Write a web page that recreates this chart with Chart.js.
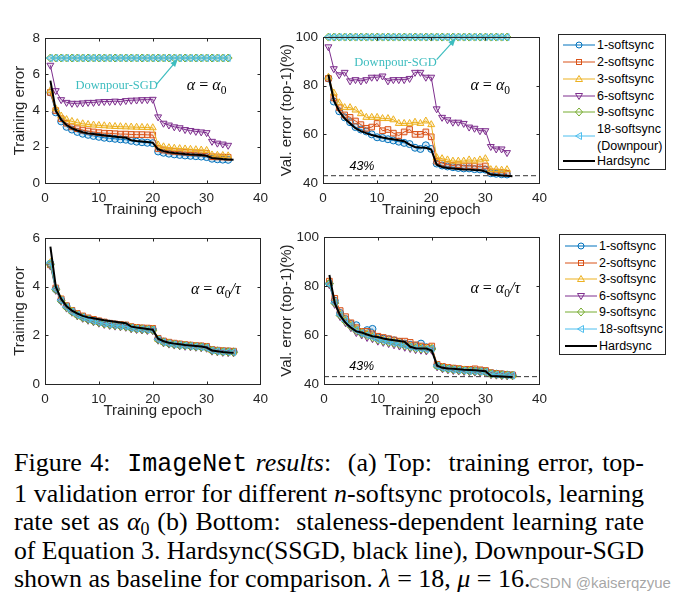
<!DOCTYPE html>
<html>
<head>
<meta charset="utf-8">
<script src="https://cdn.jsdelivr.net/npm/chart.js@4.4.0/dist/chart.umd.min.js"></script>
<style>
body{margin:0;background:#fff;}
#fig{position:relative;width:692px;height:602px;overflow:hidden;background:#fff;font-family:"Liberation Sans",Arial,sans-serif;color:#262626;}
#fig canvas{position:absolute;}
.legend{position:absolute;border:1px solid #262626;background:#fff;box-sizing:border-box;}
.row{position:absolute;height:16px;line-height:16px;font-size:12.5px;white-space:nowrap;color:#000;}
#caption{position:absolute;left:14px;top:449px;width:630px;font-family:"Liberation Serif","Times New Roman",serif;font-size:26px;line-height:28.5px;color:#000;}
#caption .ln{white-space:nowrap;transform-origin:0 0;}
#caption .j{text-align:justify;text-align-last:justify;}
.mono{font-family:"Liberation Mono","Courier New",monospace;font-size:25px;}
.sub{font-size:18px;vertical-align:-5px;line-height:0;}
#mark{position:absolute;left:529px;top:574px;font-size:15px;color:rgba(150,150,150,0.85);font-family:"Liberation Sans",Arial,sans-serif;text-shadow:0 0 2px #fff;}
</style>
</head>
<body>
<div id="fig">
  <canvas id="c1" width="275" height="200" style="left:0;top:25px"></canvas>
  <canvas id="c2" width="276" height="201" style="left:278px;top:24px"></canvas>
  <canvas id="c3" width="275" height="201" style="left:0;top:225px"></canvas>
  <canvas id="c4" width="276" height="202" style="left:278px;top:224px"></canvas>
  <div id="leg1" class="legend" style="left:558px;top:34px;width:108px;height:136px"></div>
  <div id="leg2" class="legend" style="left:559px;top:234px;width:107px;height:121px"></div>
  <div id="caption">
    <div class="ln j">Figure 4:&nbsp; <span class="mono">ImageNet</span> <i>results</i>:&nbsp; (a) Top:&nbsp; training error, top-</div>
    <div class="ln j">1 validation error for different <i>n</i>-softsync protocols, learning</div>
    <div class="ln j">rate set as <i>α</i><span class="sub">0</span> (b) Bottom:&nbsp; staleness-dependent learning rate</div>
    <div class="ln j">of Equation 3. Hardsync(SSGD, black line), Downpour-SGD</div>
    <div class="ln">shown as baseline for comparison. <i>λ</i> = 18, <i>μ</i> = 16.</div>
  </div>
  <div id="mark">CSDN @kaiserqzyue</div>
</div>
<script>
// 데이터
const epochs = [1,2,3,4,5,6,7,8,9,10,11,12,13,14,15,16,17,18,19,20,21,22,23,24,25,26,27,28,29,30,31,32,33,34,35];
const seriesNames = ['1-softsync','2-softsync','3-softsync','6-softsync','9-softsync','18-softsync'];
const xTicks = [0,10,20,30,40];
const trainTicksTop = [0,2,4,6,8];
const trainTicksBot = [0,2,4,6];
const valTicks = [40,60,80,100];
const targetErr = 43;

// (a) 위: alpha = alpha0
const hardTrain = [5.65,4.0,3.5,3.2,3.02,2.9,2.8,2.74,2.7,2.66,2.62,2.59,2.56,2.53,2.5,2.36,2.32,2.29,2.26,2.23,1.86,1.76,1.7,1.66,1.63,1.6,1.58,1.56,1.54,1.5,1.38,1.35,1.32,1.3,1.28];
const topTrain1 = [5.0,3.9,3.4,3.1,2.95,2.82,2.72,2.66,2.6,2.55,2.5,2.47,2.44,2.41,2.39,2.33,2.28,2.25,2.22,2.2,1.74,1.67,1.62,1.58,1.55,1.52,1.5,1.48,1.46,1.43,1.34,1.31,1.29,1.28];
const topTrain2 = [5.0,4.0,3.55,3.3,3.1,3.0,2.92,2.87,2.82,2.78,2.75,2.74,2.72,2.7,2.7,2.68,2.67,2.67,2.66,2.65,1.9,1.82,1.77,1.74,1.72,1.7,1.68,1.66,1.65,1.63,1.45,1.44,1.43,1.42];
const topTrain3 = [5.1,4.1,3.7,3.5,3.4,3.33,3.27,3.23,3.2,3.18,3.16,3.14,3.12,3.11,3.1,3.09,3.08,3.07,3.06,3.05,2.1,2.0,1.95,1.92,1.9,1.88,1.86,1.84,1.82,1.8,1.55,1.53,1.52,1.5];
const topTrain6 = [6.5,5.1,4.6,4.45,4.4,4.4,4.42,4.45,4.45,4.48,4.5,4.5,4.52,4.5,4.55,4.57,4.58,4.6,4.6,4.62,3.65,3.3,3.2,3.1,3.05,2.95,2.9,2.85,2.82,2.78,2.3,2.2,2.15,2.08];
const topTrain9 = [6.9,6.9,6.9,6.9,6.9,6.9,6.9,6.9,6.9,6.9,6.9,6.9,6.9,6.9,6.9,6.9,6.9,6.9,6.9,6.9,6.9,6.9,6.9,6.9,6.9,6.9,6.9,6.9,6.9,6.9,6.9,6.9,6.9,6.9];
const topTrain18 = [6.9,6.9,6.9,6.9,6.9,6.9,6.9,6.9,6.9,6.9,6.9,6.9,6.9,6.9,6.9,6.9,6.9,6.9,6.9,6.9,6.9,6.9,6.9,6.9,6.9,6.9,6.9,6.9,6.9,6.9,6.9,6.9,6.9,6.9];

const hardValTop = [84.5,74,69.5,66.5,64.5,62.5,61.3,60.5,59.7,59.2,58.7,58.3,58,57.6,57.2,55.8,54.8,54.6,54.5,53.8,47.5,46.6,46.2,46,45.8,45.6,45.5,45.3,45.2,44.8,43.5,43.3,43.1,43,42.8];
const topVal1 = [83,73.5,69.5,67,65,63,62,61.2,60,58.8,58.5,58,57.5,57,56.5,56,54.5,54,55.5,54,48,47.2,46.8,46.5,46.2,46,46,45.7,45.6,45.5,44,43.8,43.6,43.5];
const topVal2 = [83,75,71,68,67,65.5,64,62.5,63,64.5,61.5,62,60.5,59.5,61,62,60,60,61,59,49,48.2,47.6,47.2,47.5,47,47,47,46.6,47,44.6,44.5,44.3,44];
const topVal3 = [83.5,77,73,71,71,70,68.5,67,67,67,66.5,66.5,66,64.5,64.5,64.5,65,64.5,65.5,64,50.5,50,49.5,49,49,49,49.5,49,49.5,50,45.5,45.5,45.3,45.5];
const topVal6 = [96,87,84.5,85.5,82,82.5,82,82.5,83.5,83.5,84,82,82.5,82.5,82.5,83,85.5,85.5,83.5,83.5,70.5,67,66,65,65,64.5,63,62.5,61.5,61.5,55,54,54,52.5];
const topVal9 = [100,100,100,100,100,100,100,100,100,100,100,100,100,100,100,100,100,100,100,100,100,100,100,100,100,100,100,100,100,100,100,100,100,100];
const topVal18 = [100,100,100,100,100,100,100,100,100,100,100,100,100,100,100,100,100,100,100,100,100,100,100,100,100,100,100,100,100,100,100,100,100,100];

// (b) 아래: alpha = alpha0 / tau
const botTrain1 = [4.95,3.9,3.45,3.2,3.0,2.86,2.76,2.68,2.62,2.57,2.52,2.48,2.45,2.42,2.4,2.33,2.3,2.28,2.26,2.25,1.85,1.74,1.69,1.65,1.62,1.6,1.58,1.56,1.54,1.52,1.4,1.37,1.35,1.34,1.33];
const botTrain2 = [4.9,3.95,3.5,3.22,3.03,2.9,2.8,2.72,2.66,2.6,2.55,2.5,2.47,2.45,2.43,2.36,2.33,2.31,2.3,2.29,1.88,1.77,1.72,1.68,1.65,1.62,1.6,1.58,1.57,1.55,1.42,1.39,1.37,1.36,1.35];
const botTrain3 = [5.0,3.92,3.48,3.18,3.0,2.85,2.75,2.67,2.6,2.55,2.5,2.46,2.43,2.4,2.38,2.32,2.29,2.27,2.25,2.24,1.84,1.73,1.68,1.64,1.61,1.59,1.57,1.55,1.53,1.51,1.39,1.36,1.34,1.33,1.32];
const botTrain6 = [4.85,3.85,3.4,3.12,2.95,2.8,2.7,2.62,2.56,2.5,2.45,2.41,2.38,2.35,2.33,2.27,2.24,2.22,2.2,2.19,1.8,1.69,1.64,1.6,1.57,1.55,1.53,1.51,1.49,1.47,1.35,1.32,1.3,1.29,1.28];
const botTrain9 = [4.9,3.88,3.42,3.15,2.97,2.82,2.72,2.64,2.58,2.52,2.47,2.43,2.4,2.37,2.35,2.29,2.26,2.24,2.22,2.21,1.82,1.71,1.66,1.62,1.59,1.57,1.55,1.53,1.51,1.49,1.37,1.34,1.32,1.31,1.3];
const botTrain18 = [5.0,3.9,3.44,3.16,2.98,2.84,2.74,2.66,2.6,2.54,2.49,2.45,2.42,2.39,2.37,2.31,2.28,2.26,2.24,2.23,1.83,1.72,1.67,1.63,1.6,1.58,1.56,1.54,1.52,1.5,1.38,1.35,1.33,1.32,1.31];

const hardValBot = [84.5,73,68,65,63,61.5,61,60.2,59.5,59.2,58.6,58.2,57.9,57.6,57.2,55.2,54.6,54.5,54.5,53.7,47.5,46.6,46.3,46.2,46,45.8,45.7,45.6,45.4,45.2,43.3,43.2,43.1,43,42.9];
const botVal1 = [81,74,69,66.5,64.5,64,61,62,62.5,59,58.5,58.2,57.8,57.2,56.5,56,55.5,56.5,55,54.5,47.5,46.8,46.5,46.2,46,45.8,45.6,45.5,45.3,45.2,44.5,44.2,44,43.8,43.6];
const botVal2 = [82,75,70,67.5,65,63,61.5,61.5,60.5,59.5,59,58.5,58,57.5,57.5,57,56,55.5,55,55.5,48,47.2,46.8,46.5,46.3,46,46,46.2,45.8,45.5,44.6,44.3,44.1,43.9,43.7];
const botVal3 = [81.5,73.5,68.5,66,64,62.5,61,60.5,59.5,58.5,58,57.6,57.2,56.8,56,55.5,55,54.8,54.5,54.8,47.6,46.8,46.4,46.1,45.9,45.7,45.5,45.4,45.2,45,44.3,44,43.8,43.6,43.5];
const botVal6 = [80.5,72.5,67.5,65,63,61,60,59,58.5,57.5,57,56.5,56,55.5,55,54.5,54,53.8,53.5,53.8,47,46.2,45.8,45.5,45.3,45.1,45,44.8,44.7,44.5,43.8,43.6,43.4,43.3,43.3];
const botVal9 = [81,73,68,65.5,63.5,61.8,60.5,59.8,59,58,57.5,57,56.6,56.2,55.6,55,54.5,54.3,54,54.3,47.3,46.5,46.1,45.8,45.6,45.4,45.2,45.1,45,44.8,44,43.8,43.6,43.5,43.4];
const botVal18 = [80.8,73.2,68.2,65.8,63.8,62,60.8,60,59.2,58.2,57.8,57.3,56.8,56.4,55.8,55.2,54.7,54.5,54.2,54.5,47.4,46.6,46.2,45.9,45.7,45.5,45.3,45.2,45.1,44.9,44.1,43.9,43.7,43.6,43.5];

// 스타일
const colors = ['#0072BD','#D95319','#EDB120','#7E2F8E','#77AC30','#4DBEEE'];
const fills = ['rgba(0,114,189,0.15)','rgba(217,83,25,0.15)','rgba(237,177,32,0.2)','rgba(126,47,142,0.15)','rgba(119,172,48,0.2)','rgba(77,190,238,0.2)'];
const markers = [['circle',0,3.5],['rect',0,4],['triangle',0,4],['triangle',180,4],['rectRot',0,4],['triangle',270,4]];
const annColor = '#3DBDBF';
const serif = '"Liberation Serif","Times New Roman",serif';

function pts(arr) { return arr.map((v, i) => ({x: epochs[i], y: v})); }

function makeSets(soft, hard, withLine) {
  const sets = [{
    label: 'Hardsync', data: pts(hard), borderColor: '#000', borderWidth: 2,
    pointRadius: 0, order: 0, clip: false
  }];
  soft.forEach((arr, k) => {
    sets.push({
      label: seriesNames[k], data: pts(arr), borderColor: colors[k], borderWidth: 1,
      pointStyle: markers[k][0], pointRotation: markers[k][1], pointRadius: markers[k][2],
      pointBorderWidth: 1, pointBorderColor: colors[k], pointBackgroundColor: fills[k],
      order: 6 - k, clip: false
    });
  });
  if (withLine) {
    sets.push({
      label: '43%', data: [{x: xTicks[0], y: targetErr}, {x: xTicks[xTicks.length - 1], y: targetErr}],
      borderColor: '#333', borderWidth: 1, borderDash: [5, 3], pointRadius: 0, order: 7
    });
  }
  return sets;
}

function drawMath(ctx, segs, cx, cy) {
  const f = {it: 'italic 16px ' + serif, rm: '16px ' + serif, sub: '11.5px ' + serif};
  let w = 0;
  segs.forEach(s => { ctx.font = f[s[1]]; s.w = ctx.measureText(s[0]).width; w += s.w; });
  let x = cx - w / 2;
  ctx.fillStyle = '#000'; ctx.textAlign = 'left'; ctx.textBaseline = 'alphabetic';
  segs.forEach(s => { ctx.font = f[s[1]]; ctx.fillText(s[0], x, cy + (s[1] === 'sub' ? 4 : 0)); x += s.w; });
}

const figNotes = {
  id: 'figNotes',
  afterDraw(chart, args, o) {
    const {ctx, chartArea: a, scales: {x, y}} = chart;
    ctx.save();
    ctx.strokeStyle = '#262626'; ctx.lineWidth = 1;
    const L = Math.round(a.left) + 0.5, R = Math.round(a.right) + 0.5;
    const T = Math.round(a.top) + 0.5, B = Math.round(a.bottom) + 0.5;
    ctx.strokeRect(L, T, R - L, B - T);
    ctx.beginPath();
    x.ticks.forEach(t => {
      const p = Math.round(x.getPixelForValue(t.value)) + 0.5;
      ctx.moveTo(p, B); ctx.lineTo(p, B - 3); ctx.moveTo(p, T); ctx.lineTo(p, T + 3);
    });
    y.ticks.forEach(t => {
      const p = Math.round(y.getPixelForValue(t.value)) + 0.5;
      ctx.moveTo(L, p); ctx.lineTo(L + 3, p); ctx.moveTo(R, p); ctx.lineTo(R - 3, p);
    });
    ctx.stroke();
    // Downpour-SGD 화살표
    if (o.down) {
      const d = o.down;
      ctx.font = '12.5px ' + serif; ctx.fillStyle = annColor; ctx.textAlign = 'center'; ctx.textBaseline = 'alphabetic';
      ctx.fillText('Downpour-SGD', x.getPixelForValue(d.text[0]), y.getPixelForValue(d.text[1]));
      const x0 = x.getPixelForValue(d.from[0]), y0 = y.getPixelForValue(d.from[1]);
      const x1 = x.getPixelForValue(d.to[0]), y1 = y.getPixelForValue(d.to[1]);
      const ang = Math.atan2(y1 - y0, x1 - x0);
      ctx.strokeStyle = annColor; ctx.lineWidth = 1.2;
      ctx.beginPath(); ctx.moveTo(x0, y0); ctx.lineTo(x1 - 5 * Math.cos(ang), y1 - 5 * Math.sin(ang)); ctx.stroke();
      ctx.beginPath();
      ctx.moveTo(x1, y1);
      ctx.lineTo(x1 - 8 * Math.cos(ang - 0.4), y1 - 8 * Math.sin(ang - 0.4));
      ctx.lineTo(x1 - 8 * Math.cos(ang + 0.4), y1 - 8 * Math.sin(ang + 0.4));
      ctx.closePath(); ctx.fillStyle = annColor; ctx.fill();
    }
    if (o.alpha) {
      const segs = [['α', 'it'], [' = ', 'rm'], ['α', 'it'], ['0', 'sub']];
      if (o.alpha.tau) segs.push(['/τ', 'it']);
      drawMath(ctx, segs, x.getPixelForValue(o.alpha.at[0]), y.getPixelForValue(o.alpha.at[1]));
    }
    if (o.pct) {
      ctx.font = 'italic 12.5px "Liberation Sans",Arial,sans-serif'; ctx.fillStyle = '#000';
      ctx.textAlign = 'center'; ctx.textBaseline = 'alphabetic';
      ctx.fillText('43%', x.getPixelForValue(o.pct[0]), y.getPixelForValue(o.pct[1]));
    }
    ctx.restore();
  }
};

function makeChart(id, sets, yTicks, yTitle, titlePad, yWidth, notes) {
  const font = {family: '"Liberation Sans",Arial,sans-serif', size: 13.5};
  const tfont = {family: '"Liberation Sans",Arial,sans-serif', size: 15};
  return new Chart(document.getElementById(id), {
    type: 'line',
    data: {datasets: sets},
    plugins: [figNotes],
    options: {
      responsive: false, animation: false, devicePixelRatio: 1,
      layout: {padding: {top: 10, right: 7, bottom: 2, left: 0}},
      elements: {line: {tension: 0}},
      plugins: {legend: {display: false}, tooltip: {enabled: false}, figNotes: notes},
      scales: {
        x: {
          type: 'linear', min: xTicks[0], max: xTicks[xTicks.length - 1],
          afterBuildTicks: s => { s.ticks = xTicks.map(v => ({value: v})); },
          afterFit: s => { s.height = 40; },
          grid: {display: false, drawTicks: false},
          border: {display: false},
          ticks: {font: font, color: '#262626', padding: 7, maxRotation: 0},
          title: {display: true, text: 'Training epoch', font: tfont, color: '#262626', padding: {top: 4, bottom: 4}}
        },
        y: {
          type: 'linear', min: yTicks[0], max: yTicks[yTicks.length - 1],
          afterBuildTicks: s => { s.ticks = yTicks.map(v => ({value: v})); },
          afterFit: s => { s.width = yWidth; },
          grid: {display: false, drawTicks: false},
          border: {display: false},
          ticks: {font: font, color: '#262626', padding: 5},
          title: {display: true, text: yTitle, font: tfont, color: '#262626', padding: {top: titlePad, bottom: titlePad}}
        }
      }
    }
  });
}

makeChart('c1', makeSets([topTrain1, topTrain2, topTrain3, topTrain6, topTrain9, topTrain18], hardTrain, false),
  trainTicksTop, 'Training error', 11, 45,
  {down: {text: [13.3, 5.19], from: [20.7, 5.45], to: [24.6, 6.82]}, alpha: {at: [30.0, 5.14]}});
makeChart('c2', makeSets([topVal1, topVal2, topVal3, topVal6, topVal9, topVal18], hardValTop, true),
  valTicks, 'Val. error (top-1)(%)', 0, 45,
  {down: {text: [13.4, 88.3], from: [21.0, 90.7], to: [24.5, 99.4]}, alpha: {at: [30.9, 78.3]}, pct: [7.2, 45.2]});
makeChart('c3', makeSets([botTrain1, botTrain2, botTrain3, botTrain6, botTrain9, botTrain18], hardTrain, false),
  trainTicksBot, 'Training error', 11, 45,
  {alpha: {at: [31.7, 3.7], tau: true}});
makeChart('c4', makeSets([botVal1, botVal2, botVal3, botVal6, botVal9, botVal18], hardValBot, true),
  valTicks, 'Val. error (top-1)(%)', 0, 46,
  {alpha: {at: [31.8, 77.2], tau: true}, pct: [7.0, 45.6]});

// 범례
function markerSvg(k) {
  const c = colors[k];
  let shape = '';
  if (k === 0) shape = `<circle cx="16" cy="8" r="3" fill="none" stroke="${c}"/>`;
  if (k === 1) shape = `<rect x="13.5" y="5.5" width="5" height="5" fill="none" stroke="${c}"/>`;
  if (k === 2) shape = `<polygon points="16,4.5 19.5,10.5 12.5,10.5" fill="none" stroke="${c}"/>`;
  if (k === 3) shape = `<polygon points="16,11.5 19.5,5.5 12.5,5.5" fill="none" stroke="${c}"/>`;
  if (k === 4) shape = `<polygon points="16,4 19.5,8 16,12 12.5,8" fill="none" stroke="${c}"/>`;
  if (k === 5) shape = `<polygon points="12.5,8 18.5,4.5 18.5,11.5" fill="none" stroke="${c}"/>`;
  return `<line x1="0" y1="8" x2="32" y2="8" stroke="${c}" stroke-width="1"/>` + shape;
}
function buildLegend(id, rows, lineX, textX) {
  const box = document.getElementById(id);
  rows.forEach(r => {
    if (r.sample !== undefined) {
      const s = document.createElementNS('http://www.w3.org/2000/svg', 'svg');
      s.setAttribute('width', '32'); s.setAttribute('height', '16');
      s.style.position = 'absolute'; s.style.left = lineX + 'px'; s.style.top = (r.sy - 8) + 'px';
      s.innerHTML = r.sample === 'hard'
        ? '<line x1="0" y1="8" x2="32" y2="8" stroke="#000" stroke-width="2"/>'
        : markerSvg(r.sample);
      box.appendChild(s);
    }
    if (r.text) {
      const d = document.createElement('div');
      d.className = 'row'; d.style.left = textX + 'px'; d.style.top = (r.ty - 8) + 'px';
      d.textContent = r.text;
      box.appendChild(d);
    }
  });
}
buildLegend('leg1', [
  {sample: 0, sy: 10, text: seriesNames[0], ty: 10},
  {sample: 1, sy: 27, text: seriesNames[1], ty: 27},
  {sample: 2, sy: 44, text: seriesNames[2], ty: 44},
  {sample: 3, sy: 60.5, text: seriesNames[3], ty: 60.5},
  {sample: 4, sy: 77, text: seriesNames[4], ty: 77},
  {sample: 5, sy: 101, text: seriesNames[5], ty: 94},
  {text: '(Downpour)', ty: 111},
  {sample: 'hard', sy: 126, text: 'Hardsync', ty: 126}
], 4, 38);
buildLegend('leg2', [
  {sample: 0, sy: 11, text: seriesNames[0], ty: 11},
  {sample: 1, sy: 28, text: seriesNames[1], ty: 28},
  {sample: 2, sy: 44, text: seriesNames[2], ty: 44},
  {sample: 3, sy: 60.5, text: seriesNames[3], ty: 60.5},
  {sample: 4, sy: 77, text: seriesNames[4], ty: 77},
  {sample: 5, sy: 94, text: seriesNames[5], ty: 94},
  {sample: 'hard', sy: 111, text: 'Hardsync', ty: 111}
], 5, 39);

// 캡션: 너무 긴 줄만 살짝 줄이기
(function () {
  const W = 630;
  document.querySelectorAll('#caption .j').forEach(l => {
    l.style.display = 'inline-block'; l.style.width = 'auto';
    const w = l.getBoundingClientRect().width;
    l.style.display = 'block';
    if (w > W) {
      l.classList.remove('j');
      l.style.width = w + 'px';
      l.style.transform = 'scaleX(' + (W / w) + ')';
    } else {
      l.style.width = W + 'px';
    }
  });
})();
</script>
</body>
</html>
